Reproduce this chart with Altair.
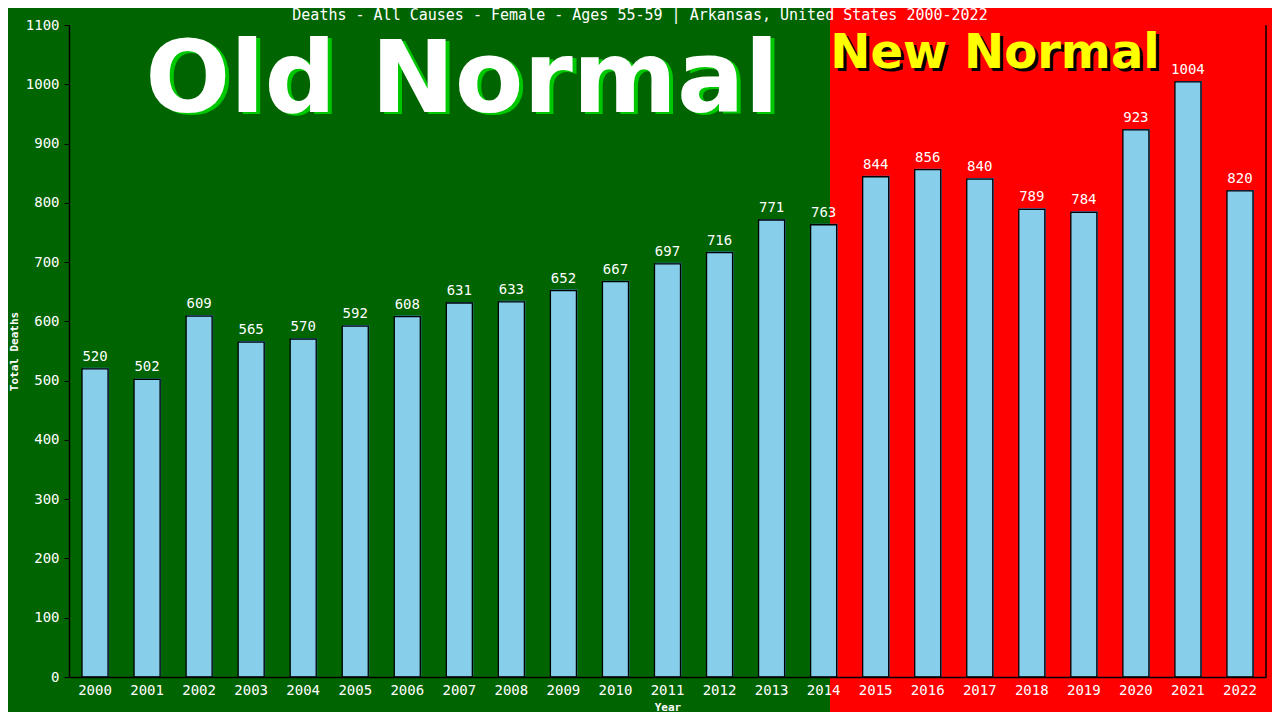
import altair as alt
import pandas as pd

years = [str(y) for y in range(2000, 2023)]
deaths = [520, 502, 609, 565, 570, 592, 608, 631, 633, 652, 667, 697, 716,
          771, 763, 844, 856, 840, 789, 784, 923, 1004, 820]
title_text = ["Deaths - All Causes - Female - Ages 55-59 | Arkansas, United States 2000-2022"]
old_label = ["Old Normal"]
new_label = ["New Normal"]

df = pd.DataFrame({"Year": years, "Deaths": deaths})
one = pd.DataFrame({"k": [0]})

MONO = "DejaVu Sans Mono"
W, H = 1197, 652

x_enc = alt.X("Year:N", sort=years,
              scale=alt.Scale(paddingInner=0.5, paddingOuter=0.25),
              axis=alt.Axis(title="Year", labelAngle=0, labelColor="white",
                            labelFont=MONO, labelFontSize=14, labelPadding=6,
                            ticks=False, domainColor="black", domainWidth=1.5,
                            titleColor="white", titleFont=MONO, titleFontSize=11,
                            titleFontWeight="bold", titlePadding=4, zindex=2))
y_enc = alt.Y("Deaths:Q", scale=alt.Scale(domain=[0, 1100], nice=False),
              axis=alt.Axis(title="Total Deaths", values=list(range(0, 1101, 100)),
                            format="d", grid=False, labelColor="white", labelFont=MONO,
                            labelFontSize=14, tickColor="black", tickSize=5,
                            labelPadding=5, domainColor="black", domainWidth=1.5,
                            titleColor="white", titleFont=MONO, titleFontSize=11,
                            titleFontWeight="bold", titlePadding=6, zindex=2))

red_bg = alt.Chart(one).mark_rect(color="#FF0000", clip=False).encode(
    x=alt.value(761), x2=alt.value(1300), y=alt.value(-40), y2=alt.value(720))

shadow = alt.Chart(df).mark_bar(color="#3A7FC0", xOffset=1, yOffset=-1).encode(
    x=x_enc, y=y_enc)
bars = alt.Chart(df).mark_bar(color="#87CEEB", stroke="black", strokeWidth=1.3).encode(
    x=x_enc, y=y_enc)
vals = alt.Chart(df).mark_text(color="white", font=MONO, fontSize=14, dy=-8,
                               baseline="alphabetic").encode(
    x=x_enc, y=y_enc, text="Deaths:Q")

tdf = pd.DataFrame({"t": title_text})
title = alt.Chart(tdf).mark_text(color="white", font=MONO, fontSize=15,
                                 baseline="alphabetic", align="center", clip=False).encode(
    x=alt.value(571), y=alt.value(-5), text="t:N")

odf = pd.DataFrame({"t": old_label})
old_sh = alt.Chart(odf).mark_text(color="#00C800", font="DejaVu Sans", fontWeight="bold",
                                  fontSize=100, baseline="alphabetic", align="center").encode(
    x=alt.value(397), y=alt.value(89), text="t:N")
old_tx = alt.Chart(odf).mark_text(color="white", font="DejaVu Sans", fontWeight="bold",
                                  fontSize=100, baseline="alphabetic", align="center").encode(
    x=alt.value(393), y=alt.value(87), text="t:N")

ndf = pd.DataFrame({"t": new_label})
new_sh = alt.Chart(ndf).mark_text(color="black", font="DejaVu Sans", fontWeight="bold",
                                  fontSize=48, baseline="alphabetic", align="center").encode(
    x=alt.value(929), y=alt.value(46), text="t:N")
new_tx = alt.Chart(ndf).mark_text(color="#FFFF00", font="DejaVu Sans", fontWeight="bold",
                                  fontSize=48, baseline="alphabetic", align="center").encode(
    x=alt.value(926), y=alt.value(43), text="t:N")

right_line = alt.Chart(one).mark_rule(color="black", strokeWidth=1.5).encode(
    x=alt.value(W), y=alt.value(0), y2=alt.value(H))

chart = alt.layer(red_bg, old_sh, old_tx, new_sh, new_tx, shadow, bars, vals,
                  title, right_line).properties(
    width=W, height=H, background="#006400",
    autosize=alt.AutoSizeParams(type="none"),
    padding={"left": 61, "top": 17, "right": 6, "bottom": 35},
).configure_view(stroke=None)

chart.save("out.html", embed_options={"renderer": "svg", "actions": False})
